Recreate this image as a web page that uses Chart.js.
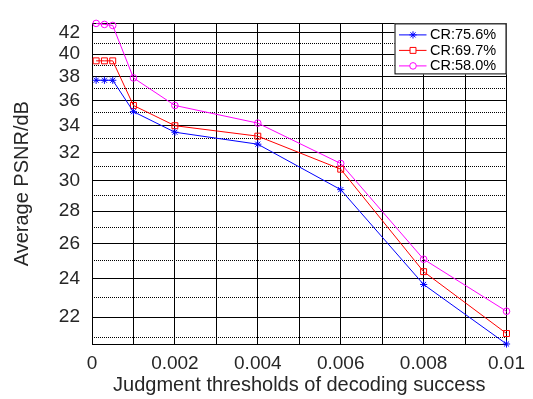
<!DOCTYPE html>
<html>
<head>
<meta charset="utf-8">
<script src="https://cdn.jsdelivr.net/npm/chart.js@4"></script>
<style>
  html, body { margin: 0; padding: 0; background: #fff; }
  #wrap { width: 533px; height: 399px; }
</style>
</head>
<body>
<div id="wrap"><canvas id="psnrChart" width="533" height="399"></canvas></div>
<script>
// thresholds (x) and PSNR values per compression ratio
const thresholds = [0.0001, 0.0003, 0.0005, 0.001, 0.002, 0.004, 0.006, 0.008, 0.01];
const cr756 = [37.7, 37.7, 37.7, 35.1, 33.5, 32.6, 29.4, 23.7, 20.7];
const cr697 = [39.4, 39.4, 39.4, 35.6, 34.0, 33.2, 30.8, 24.4, 21.2];
const cr580 = [42.9, 42.8, 42.7, 37.9, 35.6, 34.2, 31.2, 25.1, 22.3];
const seriesNames = ['CR:75.6%', 'CR:69.7%', 'CR:58.0%'];

// axis ticks
const xTicks = [0, 0.001, 0.002, 0.003, 0.004, 0.005, 0.006, 0.007, 0.008, 0.009, 0.01];
const xTickLabels = ['0', '', '0.002', '', '0.004', '', '0.006', '', '0.008', '', '0.01'];
const yTicks = [22, 24, 26, 28, 30, 32, 34, 36, 38, 40, 42];
const yMinorTicks = [21, 23, 25, 27, 29, 31, 33, 35, 37, 39, 41];
const yMin = 20.7, yMax = 42.9;

const tickFont = { family: 'Liberation Sans, Arial, sans-serif', size: 19 };
const titleFont = { family: 'Liberation Sans, Arial, sans-serif', size: 20 };

function pts(ys) {
    return thresholds.map((x, i) => ({ x: x, y: ys[i] }));
}

// legend box inside the top right corner of the plot
const boxLegend = {
    id: 'boxLegend',
    afterDatasetsDraw(chart) {
        const ctx = chart.ctx;
        const area = chart.chartArea;
        const w = 112, h = 51;
        const left = area.right - w, top = area.top;
        ctx.save();
        ctx.fillStyle = '#fff';
        ctx.fillRect(left, top, w, h);
        ctx.strokeStyle = '#000';
        ctx.lineWidth = 1;
        ctx.strokeRect(left + 0.5, top + 0.5, w - 1, h - 1);
        chart.data.datasets.forEach((ds, i) => {
            const y = top + 11.5 + i * 15.5;
            ctx.strokeStyle = ds.borderColor;
            ctx.lineWidth = 1;
            ctx.beginPath();
            ctx.moveTo(left + 4.5, y);
            ctx.lineTo(left + 32, y);
            ctx.stroke();
            ctx.fillStyle = '#fff';
            Chart.helpers.drawPoint(ctx, {
                pointStyle: ds.pointStyle, radius: ds.pointRadius,
                borderWidth: 1, rotation: 0
            }, left + 18.5, y);
            ctx.fillStyle = '#000';
            ctx.font = '14.5px "Liberation Sans", Arial, sans-serif';
            ctx.textBaseline = 'middle';
            ctx.textAlign = 'left';
            ctx.fillText(ds.label, left + 35.5, y + 0.5);
        });
        ctx.restore();
    }
};

const ctx = document.getElementById('psnrChart').getContext('2d');
const chart = new Chart(ctx, {
    type: 'line',
    data: {
        datasets: [
            { label: seriesNames[0], data: pts(cr756), borderColor: '#0000ff', pointStyle: 'star', pointRadius: 3.6 },
            { label: seriesNames[1], data: pts(cr697), borderColor: '#ff0000', pointStyle: 'rect', pointRadius: 4.2 },
            { label: seriesNames[2], data: pts(cr580), borderColor: '#ff00ff', pointStyle: 'circle', pointRadius: 3.3 }
        ].map(ds => Object.assign(ds, {
            yAxisID: 'y',
            borderWidth: 1,
            tension: 0,
            fill: false,
            clip: false,
            pointBorderColor: ds.borderColor,
            pointBackgroundColor: 'rgba(0,0,0,0)',
            pointBorderWidth: 1,
            pointHoverRadius: ds.pointRadius
        }))
    },
    options: {
        responsive: false,
        animation: false,
        events: [],
        layout: { padding: { top: 12, right: 24, left: 0, bottom: 0 } },
        plugins: {
            legend: { display: false },
            tooltip: { enabled: false }
        },
        scales: {
            x: {
                type: 'linear',
                min: 0,
                max: 0.01,
                afterBuildTicks: s => { s.ticks = xTicks.map(v => ({ value: v })); },
                afterFit: s => { s.height = 55; },
                grid: { color: '#000', lineWidth: 1, drawTicks: false },
                border: { color: '#000', width: 1 },
                ticks: {
                    autoSkip: false,
                    maxRotation: 0,
                    padding: 8,
                    color: '#262626',
                    font: tickFont,
                    callback: (v, i) => xTickLabels[i]
                },
                title: {
                    display: true,
                    text: 'Judgment thresholds of decoding success',
                    color: '#262626',
                    font: titleFont,
                    padding: { top: 0, bottom: 2 }
                }
            },
            y: {
                type: 'logarithmic',
                position: 'left',
                min: yMin,
                max: yMax,
                afterBuildTicks: s => {
                    s.ticks = [yMin].concat(yTicks, [yMax]).map(v => ({ value: v }));
                },
                afterFit: s => { s.width = 92; },
                grid: { color: '#000', lineWidth: 1, drawTicks: false },
                border: { color: '#000', width: 1 },
                ticks: {
                    autoSkip: false,
                    padding: 12,
                    color: '#262626',
                    font: tickFont,
                    callback: v => yTicks.includes(v) ? String(v) : ''
                },
                title: {
                    display: true,
                    text: 'Average PSNR/dB',
                    color: '#262626',
                    font: titleFont,
                    padding: { top: 10, bottom: 0 }
                }
            },
            y2: {
                type: 'logarithmic',
                position: 'right',
                min: yMin,
                max: yMax,
                afterBuildTicks: s => { s.ticks = yMinorTicks.map(v => ({ value: v })); },
                afterFit: s => { s.width = 0; },
                grid: { color: '#000', lineWidth: 1, drawTicks: false },
                border: { display: false, dash: [1, 1] },
                ticks: { display: false, autoSkip: false }
            }
        }
    },
    plugins: [boxLegend]
});
</script>
</body>
</html>
